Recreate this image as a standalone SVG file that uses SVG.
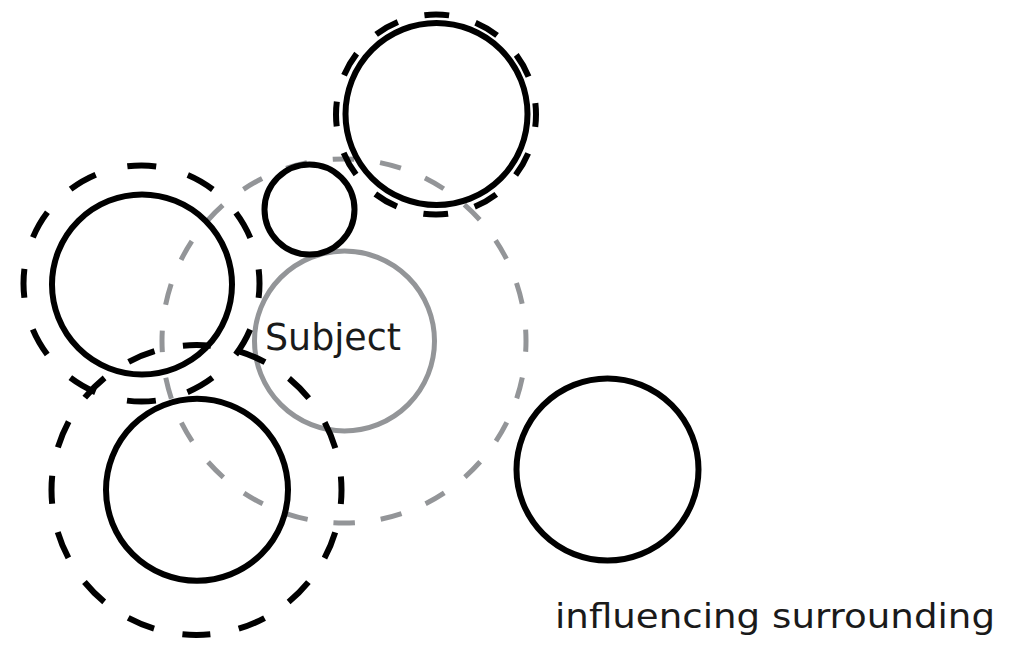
<svg xmlns="http://www.w3.org/2000/svg" width="1015" height="653" viewBox="0 0 1015 653">
<style>
.bg{fill:#ffffff}
.solid{fill:none;stroke:#000000;stroke-width:6}
.dash{fill:none;stroke:#000000;stroke-width:6}
.gray{fill:none;stroke:#939598;stroke-width:5}
.gdash{fill:none;stroke:#939598;stroke-width:5;stroke-dasharray:21.6 26;stroke-dashoffset:10.8}
.lbl{font-family:"DejaVu Sans","Liberation Sans",sans-serif;fill:#1a1a1a}
</style>
<rect class="bg" x="0" y="0" width="1015" height="653"/>
<g id="surround-field">
  <circle class="gdash" cx="344" cy="341" r="182"/>
</g>
<g id="subject">
  <circle class="gray" cx="344.5" cy="341" r="90"/>
  <text class="lbl" x="265" y="350" font-size="38" textLength="136" lengthAdjust="spacingAndGlyphs">Subject</text>
</g>
<g id="small-node">
  <circle class="solid" cx="309.5" cy="209.5" r="45"/>
</g>
<g id="top-node">
  <circle class="solid" cx="436.5" cy="114" r="91"/>
  <circle class="dash" cx="436" cy="114.5" r="100" style="stroke-dasharray:25 27.36;stroke-dashoffset:12.5"/>
</g>
<g id="left-node">
  <circle class="solid" cx="142" cy="284.5" r="90"/>
  <circle class="dash" cx="141.5" cy="283.5" r="118" style="stroke-dasharray:29 32.79;stroke-dashoffset:14.5"/>
</g>
<g id="bottom-node">
  <circle class="solid" cx="197" cy="489.8" r="91"/>
  <circle class="dash" cx="196.5" cy="490" r="145" style="stroke-dasharray:28 28.95;stroke-dashoffset:14"/>
</g>
<g id="right-node">
  <circle class="solid" cx="607.5" cy="469.5" r="91"/>
</g>
<g id="connectors"></g>
<g id="caption">
  <text class="lbl" x="555" y="628" font-size="33" textLength="440" lengthAdjust="spacingAndGlyphs">influencing surrounding</text>
</g>
</svg>
